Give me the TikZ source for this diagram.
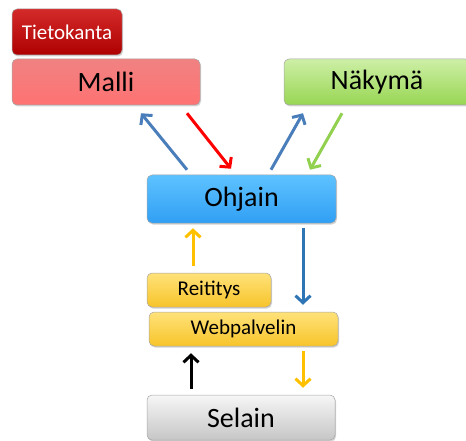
\documentclass[tikz,border=0pt]{standalone}
\usepackage{fontspec}
\setmainfont{Carlito}
\usetikzlibrary{arrows.meta,shadows}

\definecolor{dbTop}{HTML}{D42A2A}
\definecolor{dbBot}{HTML}{AE0000}
\definecolor{modelTop}{HTML}{F08282}
\definecolor{modelBot}{HTML}{FF7272}
\definecolor{viewTop}{HTML}{CDEFA6}
\definecolor{viewBot}{HTML}{98D653}
\definecolor{ctrlTop}{HTML}{5EC2FF}
\definecolor{ctrlBot}{HTML}{309FF4}
\definecolor{webTop}{HTML}{FFE27A}
\definecolor{webBot}{HTML}{F7C42A}
\definecolor{brTop}{HTML}{F6F6F6}
\definecolor{brBot}{HTML}{C6C6C6}
\definecolor{arrBlue}{HTML}{4A7EBB}
\definecolor{arrRed}{HTML}{FF0000}
\definecolor{arrGreen}{HTML}{92D050}
\definecolor{arrYellow}{HTML}{FFC000}
\definecolor{arrDown}{HTML}{2E75B6}

\tikzset{
  x=1pt, y=1pt,
  box/.style={rounded corners=5pt, draw=black!35, line width=0.5pt,
    inner sep=0pt, text=black,
    drop shadow={shadow xshift=1pt, shadow yshift=-1.5pt, opacity=0.35}},
  bigtext/.style={font=\fontsize{28}{30}\selectfont},
  smalltext/.style={font=\fontsize{21}{23}\selectfont},
  grad/.style 2 args={top color=#1, bottom color=#2},
  arr/.style={line width=3pt, -{Straight Barb[length=7pt,width=15pt,line width=3pt]}}
}

\begin{document}
\begin{tikzpicture}
\useasboundingbox (0,0) rectangle (466,-441);

% model layer
\node[box, smalltext, grad={dbTop}{dbBot}, text=white,
      minimum width=110, minimum height=46] (db) at (67,-32) {Tietokanta};
\node[box, bigtext, grad={modelTop}{modelBot},
      minimum width=188, minimum height=46] (malli) at (106,-82) {Malli};
\node[box, bigtext, grad={viewTop}{viewBot},
      minimum width=186, minimum height=46] (nakyma) at (377,-82) {Näkymä};

% controller
\node[box, bigtext, grad={ctrlTop}{ctrlBot},
      minimum width=189, minimum height=48] (ohjain) at (241.5,-199) {Ohjain};

% routing and web server
\node[box, smalltext, grad={webTop}{webBot},
      minimum width=124, minimum height=34] (reititys) at (209,-290) {Reititys};
\node[box, smalltext, grad={webTop}{webBot},
      minimum width=189, minimum height=34] (web) at (243.5,-329) {Webpalvelin};

% browser
\node[box, bigtext, grad={brTop}{brBot},
      minimum width=188, minimum height=45] (selain) at (241,-417.5) {Selain};

% controller <-> model / view
\draw[arr, arrBlue]   ([shift={(-54.5,5)}]ohjain.north) -- ([shift={(35,-8)}]malli.south);
\draw[arr, arrRed]    ([shift={(81,-8)}]malli.south) -- ([shift={(-10.5,6)}]ohjain.north);
\draw[arr, arrBlue]   ([shift={(29.5,5)}]ohjain.north) -- ([shift={(-74,-8)}]nakyma.south);
\draw[arr, arrGreen]  ([shift={(-35,-8)}]nakyma.south) -- ([shift={(68.5,5)}]ohjain.north);

% request and response path
\draw[arr, arrYellow] ([shift={(-16,7)}]reititys.north) -- ([shift={(-48.5,-5)}]ohjain.south);
\draw[arr, arrDown]   ([shift={(61.5,-5)}]ohjain.south) -- ([shift={(59.5,7)}]web.north);
\draw[arr, black]     ([shift={(-50,6)}]selain.north) -- ([shift={(-52.5,-7)}]web.south);
\draw[arr, arrYellow] ([shift={(59.5,-5)}]web.south) -- ([shift={(62,7)}]selain.north);
\end{tikzpicture}
\end{document}
